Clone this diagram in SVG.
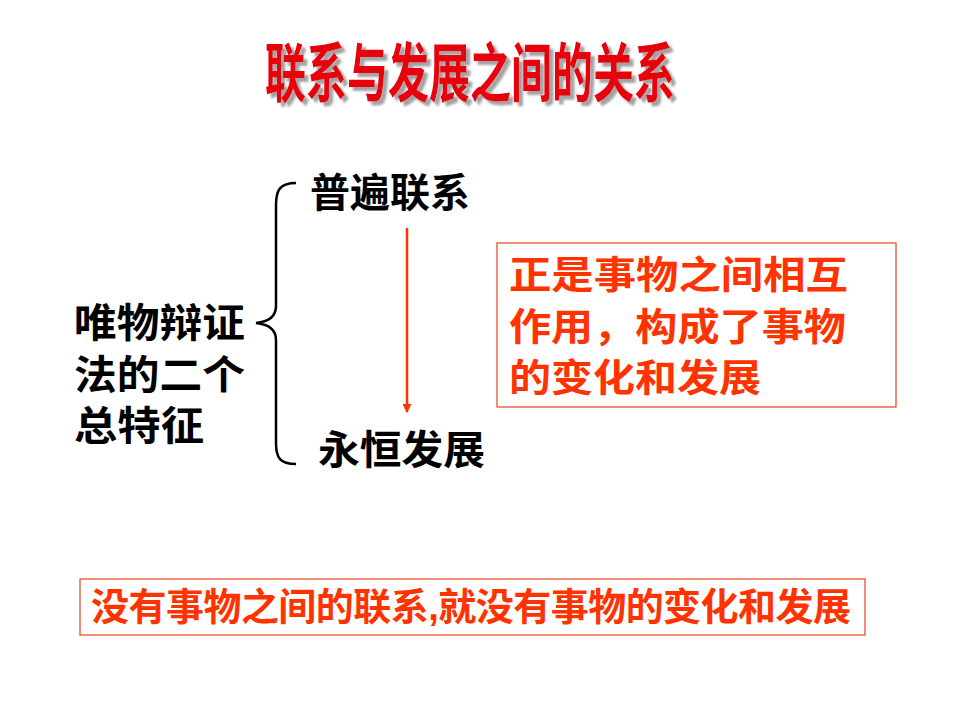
<svg xmlns="http://www.w3.org/2000/svg" width="960" height="720" viewBox="0 0 960 720">
<defs>
<style>
.cjk{font-family:"Liberation Sans","Noto Sans CJK SC",sans-serif;font-weight:bold}
.blk{fill:#000;font-size:40px}
.red{fill:#FF3300;font-size:38px}
.box{fill:#fff;stroke:#E8431A;stroke-width:1.2}
</style>
<filter id="shadow" x="-5%" y="-20%" width="115%" height="150%">
<feDropShadow dx="4" dy="4" stdDeviation="0.8" flood-color="#999999" flood-opacity="0.9"/>
</filter>
<marker id="ah" viewBox="0 0 10 10" refX="9" refY="5" markerWidth="11" markerHeight="9" orient="auto" markerUnits="userSpaceOnUse">
<path d="M0,0 L10,5 L0,10 z" fill="#FF3300"/>
</marker>
</defs>
<rect width="960" height="720" fill="#fff"/>
<g id="title">
<text class="cjk" x="265" y="96" font-size="64" fill="#E8000B" textLength="410" lengthAdjust="spacingAndGlyphs" filter="url(#shadow)">联系与发展之间的关系</text>
</g>
<g id="left">
<text class="cjk blk" x="74" y="337" textLength="171" lengthAdjust="spacingAndGlyphs">唯物辩证</text>
<text class="cjk blk" x="74" y="389" textLength="171" lengthAdjust="spacingAndGlyphs">法的二个</text>
<text class="cjk blk" x="74" y="440" textLength="130" lengthAdjust="spacingAndGlyphs">总特征</text>
</g>
<g id="connectors">
<path d="M296,183 C280,183 276,190 276,205 L276,306 C276,318 266,322 256,323 C266,324 276,328 276,340 L276,443 C276,458 280,464 296,464" fill="none" stroke="#000" stroke-width="2.5"/>
<line x1="407" y1="228" x2="407" y2="412" stroke="#FF3300" stroke-width="2.5" marker-end="url(#ah)"/>
</g>
<g id="n1">
<text class="cjk blk" x="310" y="207" textLength="160" lengthAdjust="spacingAndGlyphs">普遍联系</text>
</g>
<g id="n2">
<text class="cjk blk" x="318" y="464" font-size="41" textLength="167" lengthAdjust="spacingAndGlyphs">永恒发展</text>
</g>
<g id="box1">
<rect class="box" x="497" y="243" width="399" height="164"/>
<text class="cjk red" x="509" y="288" textLength="339" lengthAdjust="spacingAndGlyphs">正是事物之间相互</text>
<text class="cjk red" x="509" y="340" textLength="337" lengthAdjust="spacingAndGlyphs">作用，构成了事物</text>
<text class="cjk red" x="509" y="391" textLength="252" lengthAdjust="spacingAndGlyphs">的变化和发展</text>
</g>
<g id="box2">
<rect class="box" x="80" y="579" width="785" height="56"/>
<text class="cjk red" x="91" y="620" font-size="36" textLength="760">没有事物之间的联系,就没有事物的变化和发展</text>
</g>
</svg>
